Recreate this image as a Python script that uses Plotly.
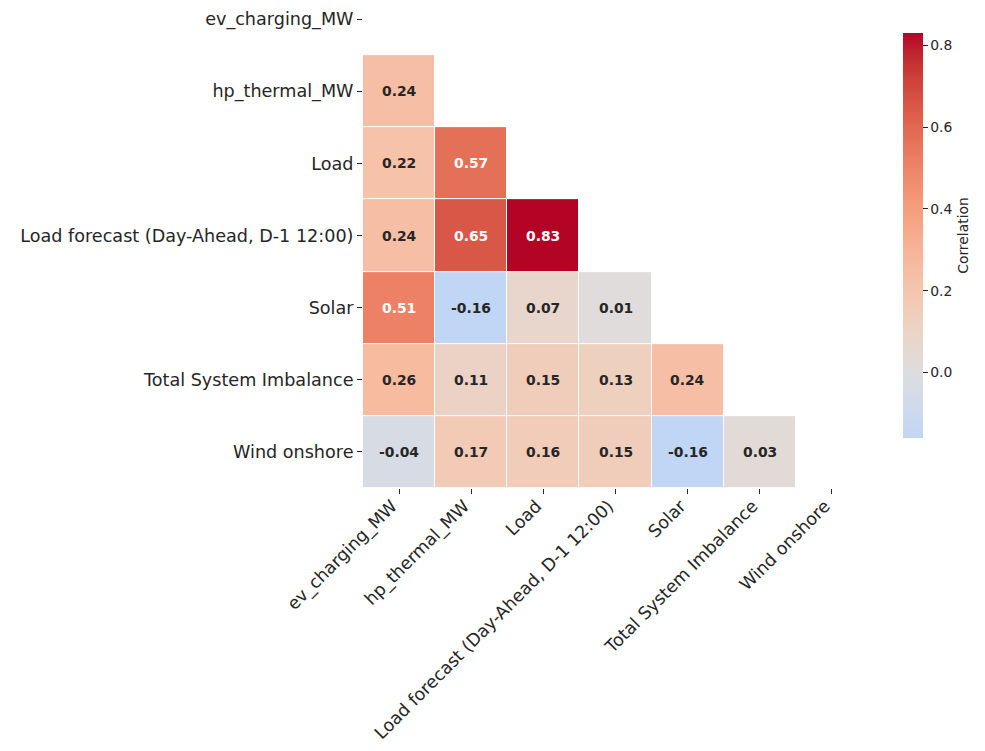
import plotly.graph_objects as go

labels = ["ev_charging_MW", "hp_thermal_MW", "Load",
          "Load forecast (Day-Ahead, D-1 12:00)", "Solar",
          "Total System Imbalance", "Wind onshore"]

# lower-triangle correlation values (row i holds columns 0..i-1)
row_ev = []
row_hp = [0.24]
row_load = [0.22, 0.57]
row_lf = [0.24, 0.65, 0.83]
row_solar = [0.51, -0.16, 0.07, 0.01]
row_tsi = [0.26, 0.11, 0.15, 0.13, 0.24]
row_wind = [-0.04, 0.17, 0.16, 0.15, -0.16, 0.03]
rows = [row_ev, row_hp, row_load, row_lf, row_solar, row_tsi, row_wind]

n = len(labels)
z = [[(r[j] if j < len(r) else None) for j in range(n)] for r in rows]

# matplotlib "coolwarm" reference colours (33 evenly spaced stops)
COOLWARM = [
    (59, 76, 192), (68, 90, 204), (77, 104, 215), (87, 117, 225), (98, 130, 234),
    (108, 142, 241), (119, 154, 247), (130, 165, 251), (141, 176, 254), (152, 185, 255),
    (163, 194, 255), (174, 201, 253), (184, 208, 249), (194, 213, 244), (204, 217, 238),
    (213, 219, 230), (221, 221, 221), (229, 216, 209), (236, 211, 197), (241, 204, 185),
    (245, 196, 173), (247, 187, 160), (247, 177, 148), (247, 166, 135), (244, 154, 123),
    (241, 141, 111), (236, 127, 99), (229, 112, 88), (222, 96, 77), (213, 80, 66),
    (203, 62, 56), (192, 40, 47), (180, 4, 38)]


def cw(t):
    t = min(max(t, 0.0), 1.0)
    f = t * (len(COOLWARM) - 1)
    i = min(int(f), len(COOLWARM) - 2)
    a = f - i
    c0, c1 = COOLWARM[i], COOLWARM[i + 1]
    return tuple(c0[k] + (c1[k] - c0[k]) * a for k in range(3))


vals = [v for r in rows for v in r]
zmin, zmax = min(vals), max(vals)
center = 0.0
vrange = max(zmax - center, center - zmin)
cmin = (zmin - (center - vrange)) / (2 * vrange)
cmax = (zmax - (center - vrange)) / (2 * vrange)

N = 64
colorscale = []
for k in range(N + 1):
    p = k / N
    c = cw(cmin + (cmax - cmin) * p)
    colorscale.append([p, "rgb(%d,%d,%d)" % tuple(round(x) for x in c)])


def lum(rgb):
    out = []
    for x in rgb:
        x = x / 255
        out.append(x / 12.92 if x <= 0.03928 else ((x + 0.055) / 1.055) ** 2.4)
    return 0.2126 * out[0] + 0.7152 * out[1] + 0.0722 * out[2]


annotations = []
for i, r in enumerate(rows):
    for j, v in enumerate(r):
        p = (v - zmin) / (zmax - zmin)
        c = cw(cmin + (cmax - cmin) * p)
        col = "#262626" if lum(c) > 0.408 else "white"
        annotations.append(dict(
            x=j, y=i, xref="x", yref="y", text="%.2f" % v, showarrow=False,
            font=dict(family="DejaVu Sans", size=13.9, color=col, weight="bold")))

fig = go.Figure(go.Heatmap(
    z=z, x=list(range(n)), y=list(range(n)),
    colorscale=colorscale, zmin=zmin, zmax=zmax,
    xgap=1, ygap=1, hoverongaps=False,
    colorbar=dict(
        title=dict(text="Correlation", side="right",
                   font=dict(family="DejaVu Sans", size=13.9, color="#262626")),
        thickness=20, lenmode="pixels", len=405,
        x=(903 - 363) / 505, xanchor="left", xpad=0,
        y=(488 - 33) / 488, yanchor="top", ypad=0,
        outlinewidth=0,
        tickvals=[0.0, 0.2, 0.4, 0.6, 0.8], tickformat=".1f",
        ticks="outside", ticklen=5, tickcolor="#262626",
        tickfont=dict(family="DejaVu Sans", size=13.9, color="#262626"),
    ),
))

fig.update_layout(
    width=985, height=751,
    margin=dict(l=363, r=117, t=0, b=263),
    paper_bgcolor="white", plot_bgcolor="white",
    font=dict(family="DejaVu Sans", color="#262626"),
    annotations=annotations,
    xaxis=dict(range=[-0.5, n - 0.5], tickvals=list(range(n)), ticktext=labels,
               tickangle=-45, ticks="outside", ticklen=5, tickcolor="#262626",
               tickfont=dict(size=17.4, color="#262626"),
               ticklabelshift=-7, ticklabelstandoff=-5,
               showgrid=False, zeroline=False, showline=False, automargin=False),
    yaxis=dict(range=[n - 0.5, -0.266], tickvals=list(range(n)), ticktext=labels,
               ticks="outside", ticklen=5, tickcolor="#262626",
               tickfont=dict(size=17.6, color="#262626"),
               showgrid=False, zeroline=False, showline=False, automargin=False),
)

fig.write_html("out.html", config={"displayModeBar": False},
               post_script="document.body.style.margin='0';document.body.style.overflow='hidden';")
